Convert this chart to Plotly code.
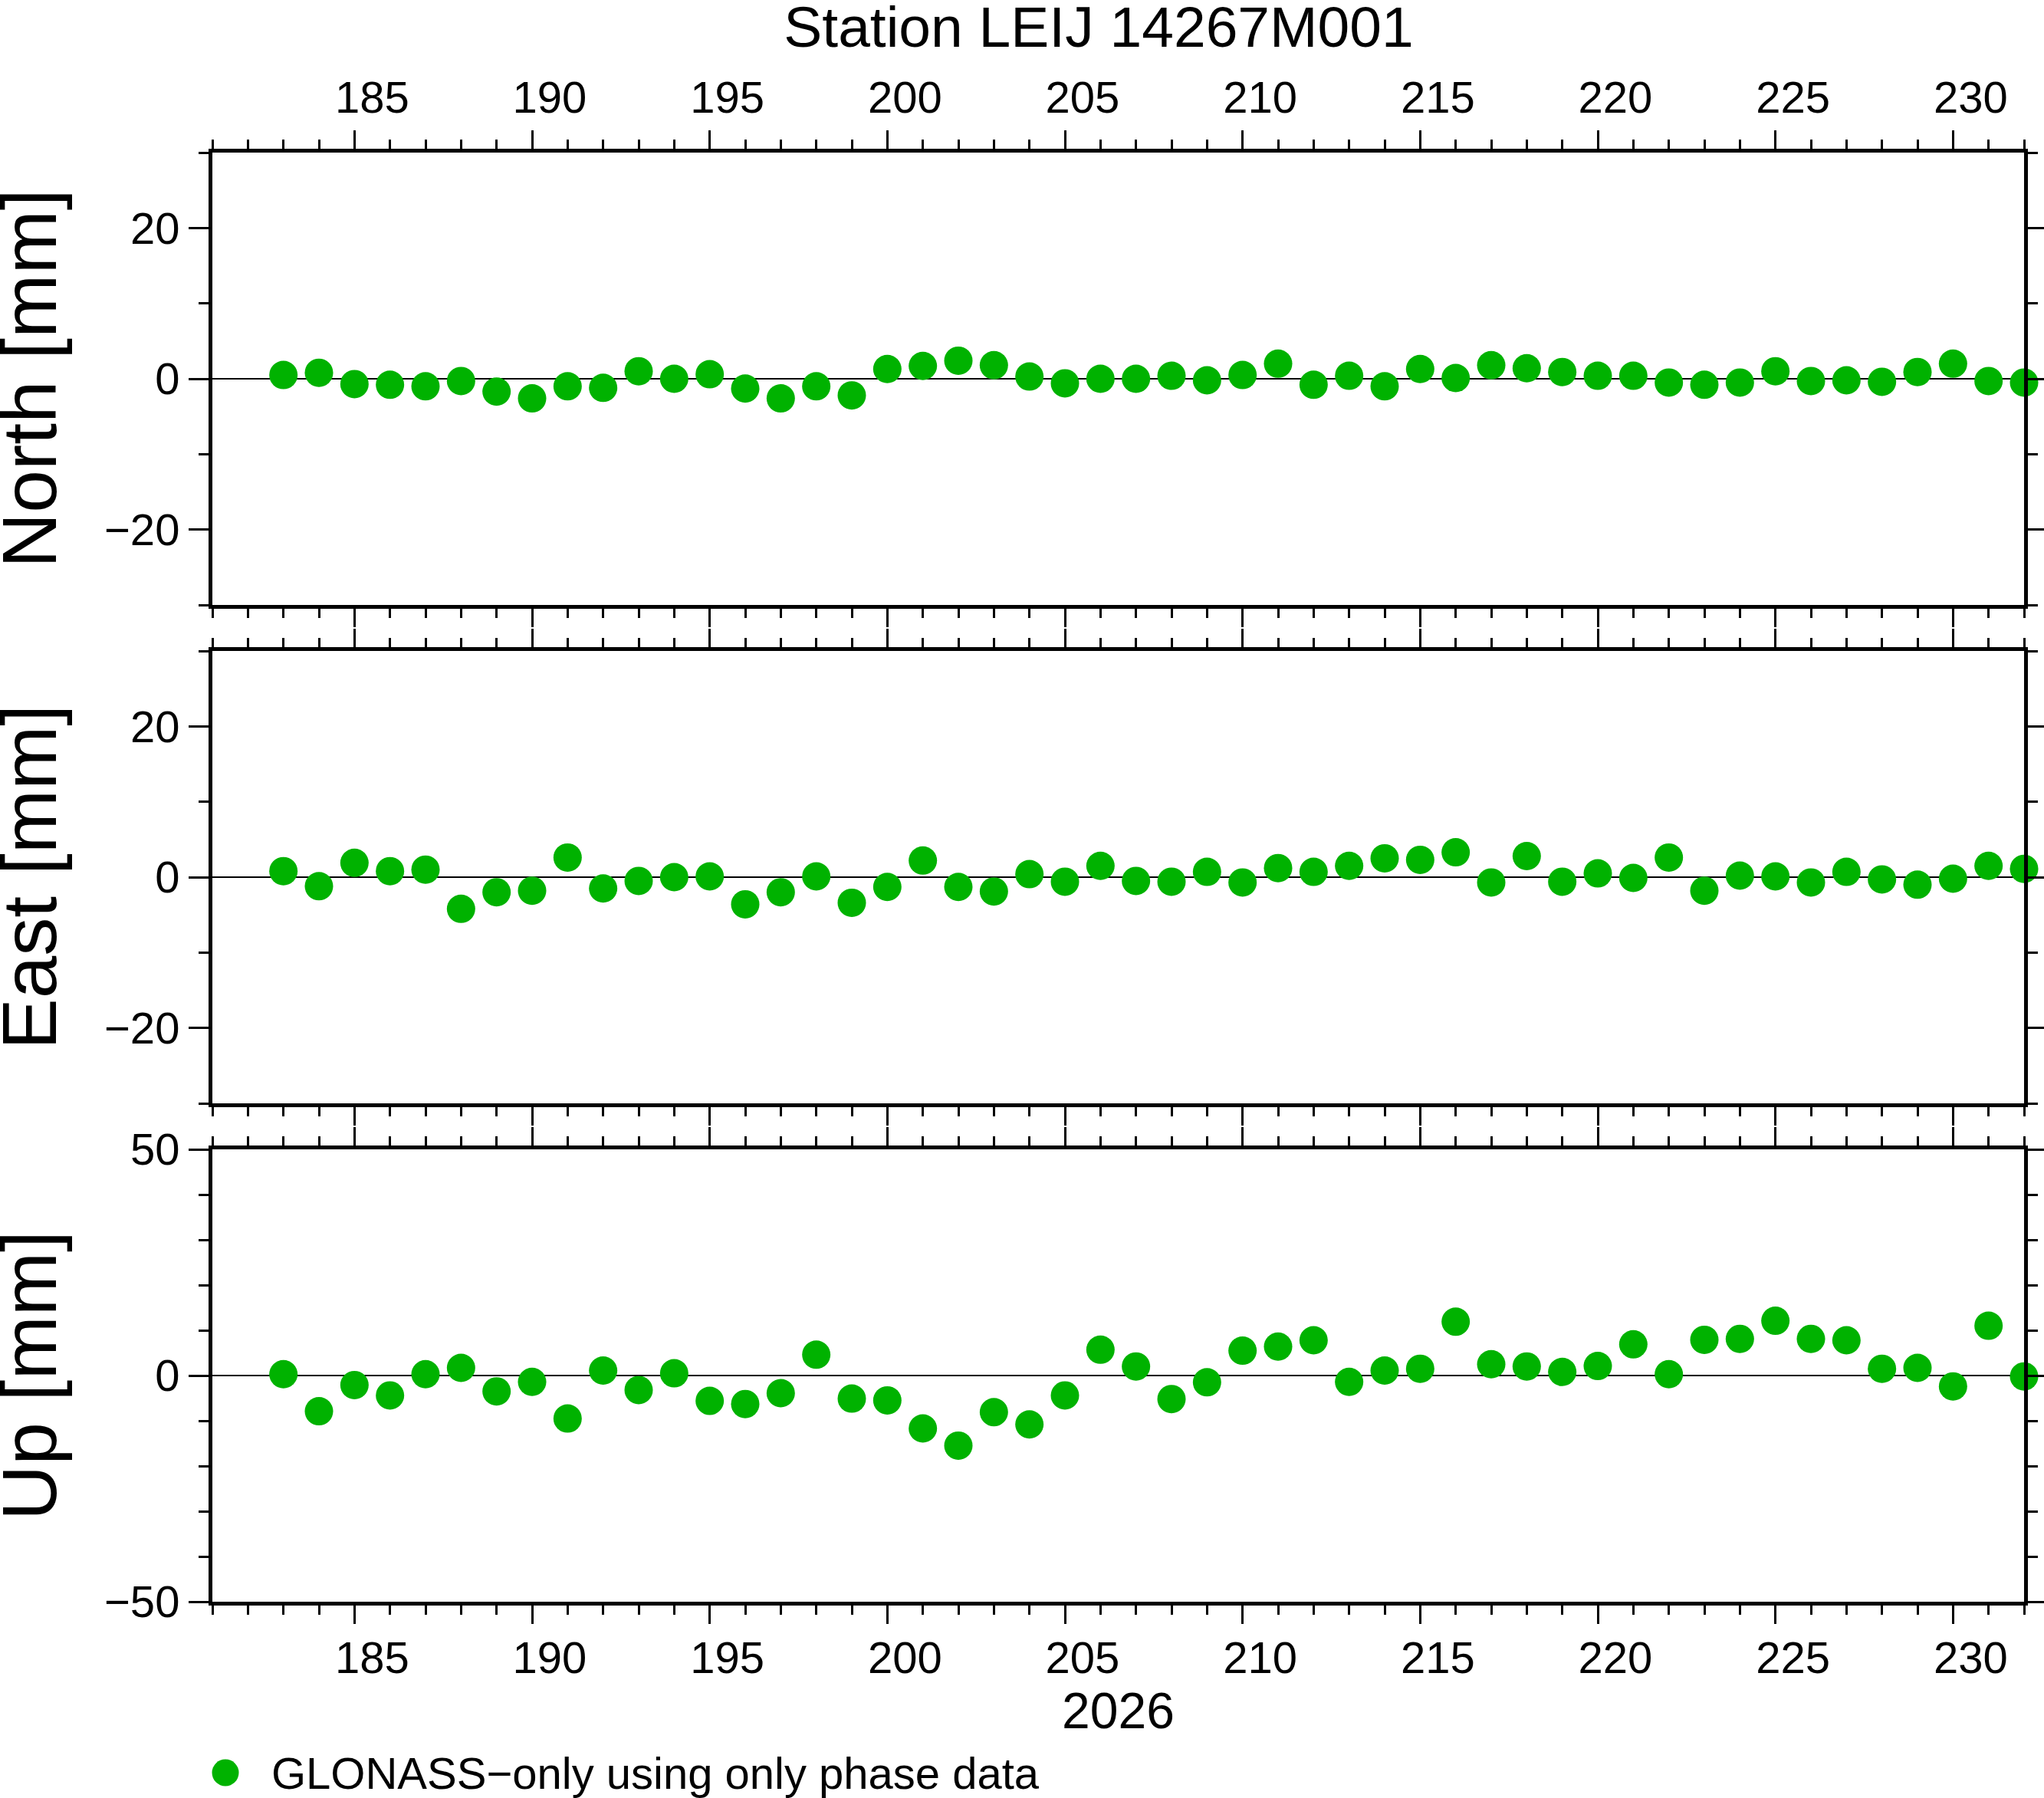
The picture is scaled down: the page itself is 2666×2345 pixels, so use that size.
import plotly.graph_objects as go

# ---------------- data (day of year 2026) ----------------
doy = [183, 184, 185, 186, 187, 188, 189, 190, 191, 192,
       193, 194, 195, 196, 197, 198, 199, 200, 201, 202,
       203, 204, 205, 206, 207, 208, 209, 210, 211, 212,
       213, 214, 215, 216, 217, 218, 219, 220, 221, 222,
       223, 224, 225, 226, 227, 228, 229, 230, 231, 232]

north = [0.5, 0.8, -0.7, -0.8, -1.0, -0.3, -1.7, -2.6, -1.0, -1.2,
         1.0, 0.0, 0.6, -1.3, -2.6, -1.0, -2.2, 1.3, 1.7, 2.4,
         1.8, 0.3, -0.6, 0.0, 0.0, 0.4, -0.2, 0.5, 2.0, -0.8,
         0.4, -1.0, 1.3, 0.1, 1.8, 1.4, 0.9, 0.4, 0.4, -0.5,
         -0.8, -0.5, 1.0, -0.3, -0.2, -0.4, 0.9, 2.0, -0.3, -0.5]

east = [0.8, -1.2, 1.9, 0.8, 1.0, -4.2, -2.0, -1.8, 2.6, -1.5,
        -0.5, 0.0, 0.1, -3.6, -2.0, 0.1, -3.4, -1.3, 2.2, -1.3,
        -1.9, 0.4, -0.6, 1.5, -0.5, -0.6, 0.7, -0.7, 1.2, 0.7,
        1.5, 2.5, 2.3, 3.3, -0.7, 2.8, -0.6, 0.5, -0.1, 2.6,
        -1.8, 0.2, 0.1, -0.7, 0.7, -0.3, -1.0, -0.2, 1.5, 1.1]

up = [0.3, -7.9, -2.1, -4.4, 0.3, 1.7, -3.5, -1.4, -9.5, 1.1,
      -3.2, 0.5, -5.6, -6.3, -3.9, 4.6, -5.1, -5.5, -11.7, -15.5,
      -8.1, -10.8, -4.4, 5.7, 2.0, -5.2, -1.5, 5.5, 6.4, 7.8,
      -1.4, 1.1, 1.5, 11.9, 2.5, 2.0, 0.8, 2.1, 6.9, 0.3,
      7.9, 8.1, 12.1, 8.1, 7.8, 1.5, 1.7, -2.4, 11.0, -0.2]

title_text = "Station LEIJ 14267M001"
year_label = "2026"
series_name = "GLONASS\u2212only using only phase data"
panel_labels = ["North [mm]", "East [mm]", "Up [mm]"]
x_range = [181, 232]
ne_range = [-30, 30]
u_range = [-50, 50]

# ---------------- figure ----------------
W, H = 2666, 2345
ML, MR, MT, MB = 277, 26, 199, 256
PW, PH = W - ML - MR, H - MT - MB
GREEN = "rgb(0,178,0)"
FONT = "Liberation Sans, Arial, Helvetica, sans-serif"

fig = go.Figure()
for i, vals in enumerate([north, east, up]):
    sfx = "" if i == 0 else str(i + 1)
    fig.add_trace(go.Scatter(
        x=doy, y=vals, mode="markers",
        xaxis="x" + sfx, yaxis="y" + sfx,
        marker=dict(color=GREEN, size=37, line=dict(width=0)),
        name=series_name, showlegend=False, cliponaxis=False,
    ))

xcommon = dict(
    range=x_range, tick0=0, dtick=5, ticks="outside", ticklen=24, tickwidth=3,
    tickcolor="black", showline=True, linewidth=5, linecolor="black",
    mirror="ticks", showgrid=False, zeroline=False,
    minor=dict(dtick=1, ticks="outside", ticklen=12, tickwidth=3,
               tickcolor="black", showgrid=False),
    tickfont=dict(size=58, color="black", family=FONT),
    ticklabelshift=23,
)
ycommon = dict(
    ticks="outside", ticklen=26, tickwidth=3, tickcolor="black",
    showline=True, linewidth=5, linecolor="black", mirror="ticks",
    showgrid=False, zeroline=True, zerolinecolor="black", zerolinewidth=2,
    tickfont=dict(size=58, color="black", family=FONT),
    minor=dict(dtick=10, ticks="outside", ticklen=13, tickwidth=3,
               tickcolor="black", showgrid=False),
)

dom_top = [1300 / PH, 1.0]
dom_mid = [650 / PH, 1240 / PH]
dom_bot = [0.0, 590 / PH]

# panel (y-axis) labels, rotated, at the left edge of the page
for i, lab in enumerate(panel_labels):
    sfx = "" if i == 0 else str(i + 1)
    fig.add_annotation(text=lab, xref="paper", yref="y" + sfx + " domain",
                       x=(38 - ML) / PW, y=0.5, xanchor="center", yanchor="middle",
                       textangle=-90, showarrow=False,
                       font=dict(size=100, color="black", family=FONT))

# legend entry (marker dot + label) placed below the bottom panel
leg_y = -(2312 - (H - MB)) / PH
fig.add_shape(type="circle", xref="paper", yref="paper",
              xsizemode="pixel", ysizemode="pixel",
              xanchor=(294 - ML) / PW, yanchor=leg_y,
              x0=-17.5, x1=17.5, y0=-17.5, y1=17.5,
              fillcolor=GREEN, line=dict(width=0))
fig.add_annotation(text=series_name, xref="paper", yref="paper",
                   x=(352 - ML) / PW, y=leg_y, xanchor="left", yanchor="middle",
                   showarrow=False,
                   font=dict(size=58, color="black", family=FONT))

fig.update_layout(
    width=W, height=H,
    margin=dict(l=ML, r=MR, t=MT, b=MB, autoexpand=False),
    paper_bgcolor="white", plot_bgcolor="white",
    font=dict(family=FONT, color="black"),
    title=dict(text=title_text, x=1433 / W, xref="container", xanchor="center",
               y=1 - 35 / H, yref="container", yanchor="middle",
               font=dict(size=75, color="black", family=FONT)),
    xaxis=dict(xcommon, side="top", anchor="y", showticklabels=True),
    xaxis2=dict(xcommon, anchor="y2", matches="x", showticklabels=False),
    xaxis3=dict(xcommon, anchor="y3", matches="x", side="bottom",
                showticklabels=True, ticklabelstandoff=-6,
                title=dict(text=year_label, standoff=2,
                           font=dict(size=66, color="black", family=FONT))),
    yaxis=dict(ycommon, domain=dom_top, anchor="x", range=ne_range, dtick=20),
    yaxis2=dict(ycommon, domain=dom_mid, anchor="x2", range=ne_range, dtick=20),
    yaxis3=dict(ycommon, domain=dom_bot, anchor="x3", range=u_range, dtick=50),
    showlegend=False,
)

fig.write_html(
    "out.html",
    config={"displayModeBar": False},
    post_script="document.body.style.margin='0';document.body.style.padding='0';",
)
